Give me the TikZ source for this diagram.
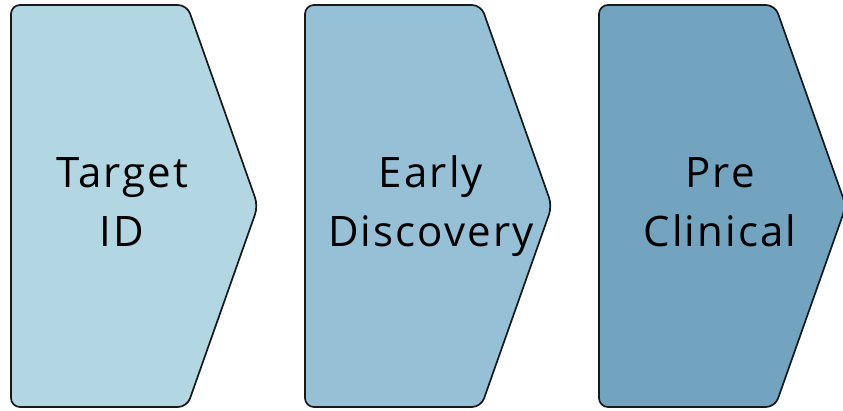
\documentclass[tikz,border=0pt]{standalone}
\usepackage{fontspec}
\setmainfont{Open Sans}[LetterSpace=5]
\definecolor{stageA}{RGB}{179,214,227}
\definecolor{stageB}{RGB}{149,192,213}
\definecolor{stageC}{RGB}{114,163,191}
\begin{document}
\begin{tikzpicture}[x=1pt,y=1pt,
  stage/.style={draw=black!90,line width=1.7pt,rounded corners=9pt,line join=round},
  label/.style={align=center,font=\fontsize{42}{59}\selectfont,text=black,inner sep=0pt}]
\useasboundingbox (0,0) rectangle (843,410);
\clip (0,0) rectangle (843,410);
\foreach \xo/\col in {11/stageA,305/stageB,599/stageC}{
  \draw[stage,fill=\col] (\xo,405) -- (\xo+176,405) -- (\xo+247,204) -- (\xo+176,3) -- (\xo,3) -- cycle;
}
\node[label,anchor=base] (t1) at (122,222) {Target};
\node[label,anchor=base] (t1b) at (122,163) {ID};
\node[label,anchor=base] (t2) at (431,222) {Early};
\node[label,anchor=base] (t2b) at (431,163) {Discovery};
\node[label,anchor=base] (t3) at (720,222) {Pre};
\node[label,anchor=base] (t3b) at (720,163) {Clinical};
\end{tikzpicture}
\end{document}
